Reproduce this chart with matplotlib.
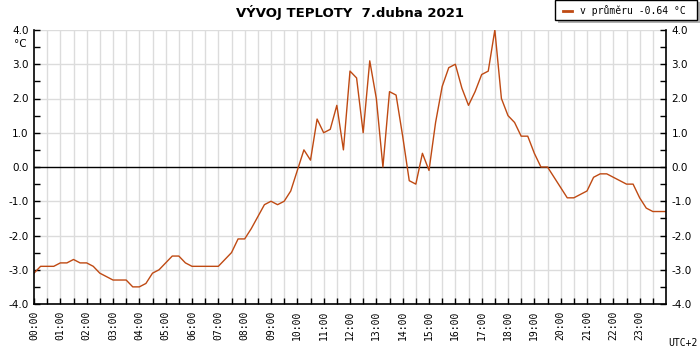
import matplotlib
matplotlib.use('Agg')
import matplotlib.pyplot as plt
from matplotlib.patches import Rectangle
import numpy as np

# 15-minute readings, 00:00 .. 24:00
temps = [
    -3.1, -2.9, -2.9, -2.9, -2.8, -2.8, -2.7, -2.8,   # 00:00-01:45
    -2.8, -2.9, -3.1, -3.2, -3.3, -3.3, -3.3, -3.5,   # 02:00-03:45
    -3.5, -3.4, -3.1, -3.0, -2.8, -2.6, -2.6, -2.8,   # 04:00-05:45
    -2.9, -2.9, -2.9, -2.9, -2.9, -2.7, -2.5, -2.1,   # 06:00-07:45
    -2.1, -1.8, -1.45, -1.1, -1.0, -1.1, -1.0, -0.7,  # 08:00-09:45
    -0.1, 0.5, 0.2, 1.4, 1.0, 1.1, 1.8, 0.5,          # 10:00-11:45
    2.8, 2.6, 1.0, 3.1, 2.0, 0.0, 2.2, 2.1,           # 12:00-13:45
    0.9, -0.4, -0.5, 0.4, -0.1, 1.3, 2.35, 2.9,       # 14:00-15:45
    3.0, 2.3, 1.8, 2.2, 2.7, 2.8, 4.0, 2.0,           # 16:00-17:45
    1.5, 1.3, 0.9, 0.9, 0.4, 0.0, 0.0, -0.3,          # 18:00-19:45
    -0.6, -0.9, -0.9, -0.8, -0.7, -0.3, -0.2, -0.2,   # 20:00-21:45
    -0.3, -0.4, -0.5, -0.5, -0.9, -1.2, -1.3, -1.3,   # 22:00-23:45
    -1.3,                                             # 24:00
]
hours = np.arange(len(temps)) * 0.25

hour_labels = [f'{h:02d}:00' for h in range(24)]
y_values = [4, 3, 2, 1, 0, -1, -2, -3, -4]
y_labels = [f'{v:.1f}' for v in y_values]

title = 'VÝVOJ TEPLOTY  7.dubna 2021'
legend_text = 'v průměru -0.64 °C'
line_color = '#bf4a13'

W, H = 700, 350
fig = plt.figure(figsize=(7, 3.5), dpi=100)
ax = fig.add_axes([34 / W, 1 - 304 / H, (666 - 34) / W, (304 - 30) / H])

for h in np.arange(0.5, 24, 0.5):
    ax.axvline(h, color='#dcdcdc', lw=1, zorder=0)
for v in y_values:
    if v != 0:
        ax.axhline(v, color='#dcdcdc', lw=1, zorder=0)
ax.axhline(0, color='black', lw=1, zorder=1)

ax.plot(hours, temps, color=line_color, lw=1.0, zorder=2)

ax.set_xlim(0, 24)
ax.set_ylim(-4, 4)
ax.spines['top'].set_visible(False)
for s in ['left', 'right', 'bottom']:
    ax.spines[s].set_linewidth(1.2)

ax.set_xticks(range(24))
ax.set_xticklabels(hour_labels, rotation=90, family='DejaVu Sans Mono', fontsize=7)
ax.set_xticks(np.arange(0.5, 24, 0.5), minor=True)
ax.set_yticks(y_values)
ax.set_yticklabels(y_labels, fontsize=7.5)
ax.set_yticks(np.arange(-3.5, 4, 1.0), minor=True)
ax.tick_params(axis='both', which='both', direction='in', length=4, width=1,
               right=True, labelright=True, pad=4)
ax.tick_params(axis='x', which='both', top=False, pad=5)

fig.text(14 / W, 1 - 44 / H, '°C', fontsize=7.5, va='center', ha='left')
fig.text(698 / W, 1 - 343 / H, 'UTC+2', fontsize=7, va='center', ha='right',
         family='DejaVu Sans Mono')
fig.text(350 / W, 1 - 12 / H, title, fontsize=9.5, fontweight='bold',
         ha='center', va='center')

# legend box with shadow
fig.patches.append(Rectangle((558 / W, 1 - 23 / H), 142 / W, 21 / H,
                             transform=fig.transFigure, facecolor='#b0b0b0',
                             edgecolor='none', zorder=5))
fig.patches.append(Rectangle((555 / W, 1 - 20 / H), 142 / W, 20 / H,
                             transform=fig.transFigure, facecolor='white',
                             edgecolor='black', lw=1, zorder=6))
fig.lines.append(plt.Line2D([563 / W, 572 / W], [1 - 11 / H, 1 - 11 / H],
                            transform=fig.transFigure, color=line_color,
                            lw=2, zorder=7))
fig.text(580 / W, 1 - 11 / H, legend_text, fontsize=7, va='center', ha='left',
         family='DejaVu Sans Mono', zorder=8)

fig.savefig('out.png', dpi=100)
